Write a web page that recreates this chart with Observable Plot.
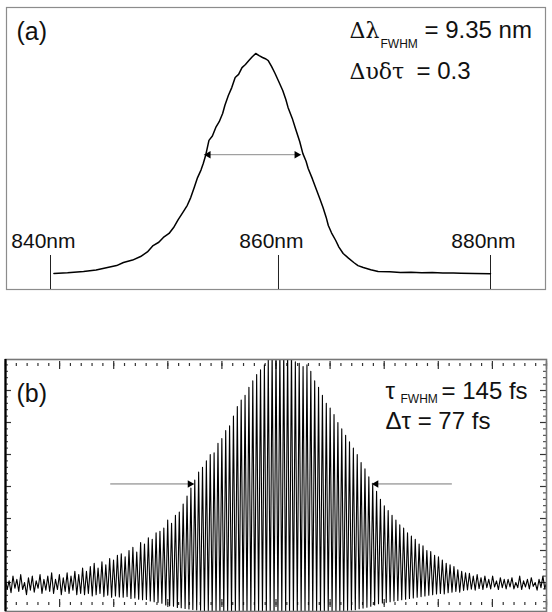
<!DOCTYPE html>
<html>
<head>
<meta charset="utf-8">
<script src="https://cdn.jsdelivr.net/npm/d3@7"></script>
<script src="https://cdn.jsdelivr.net/npm/@observablehq/plot@0.6"></script>
<style>
  html, body { margin: 0; padding: 0; background: #fff; }
  #wrap { position: relative; width: 552px; height: 612px; overflow: hidden; background: #fff; }
  #pa, #pb { position: absolute; left: 0; }
  #pa { top: 0; }
  #pb { top: 300px; }
  svg { display: block; }
</style>
</head>
<body>
<div id="wrap"><div id="pa"></div><div id="pb"></div></div>
<script>
// ---------- Panel (a): spectrum ----------
const tickNm = [840, 860, 880];
const wavelengthNm = [
  840.3, 841.5, 842.9, 844.0, 845.0, 845.8, 846.4, 847.2, 847.9, 848.5,
  849.0, 849.5, 849.9, 850.4, 850.8, 851.2, 851.6, 852.0, 852.3, 852.6,
  852.9, 853.2, 853.4, 853.6, 853.9, 854.2, 854.5, 854.8, 855.1, 855.3,
  855.6, 855.9, 856.2, 856.5, 856.8, 857.1, 857.4, 857.7, 858.0, 858.3,
  858.6, 858.9, 859.1, 859.4, 859.7, 860.0, 860.4, 860.7, 860.9, 861.3,
  861.6, 862.0, 862.3, 862.6, 862.8, 863.2, 863.5, 863.9, 864.2, 864.5,
  864.7, 865.0, 865.4, 865.7, 866.1, 866.6, 867.1, 867.5, 868.0, 868.7,
  869.4, 870.5, 871.5, 872.5, 873.5, 874.5, 875.5, 876.5, 877.2, 878.5, 880.0
];
const intensity = [
  0.0, 0.3, 0.9, 1.6, 2.7, 3.6, 5.0, 6.1, 7.7, 9.8,
  12.7, 14.2, 16.4, 18.2, 20.9, 24.5, 27.7, 31.0, 34.5, 39.0,
  43.6, 47.0, 50.0, 53.5, 60.5, 62.5, 66.4, 69.0, 72.7, 76.5,
  80.9, 84.5, 89.1, 90.5, 93.6, 95.0, 96.8, 98.5, 100, 99.0,
  98.2, 97.5, 96.8, 94.0, 90.9, 87.5, 83.2, 79.0, 75.5, 70.5,
  65.9, 60.0, 54.5, 51.0, 47.7, 43.0, 39.1, 34.0, 30.0, 25.5,
  21.8, 18.5, 15.0, 12.0, 9.1, 7.0, 5.0, 3.6, 2.7, 1.7,
  0.9, 0.8, 0.5, 0.6, 0.3, 0.5, 0.2, 0.2, 0.1, 0.0, -0.1
];
const spectrumFwhmNm = [853.5, 862.1];
const spectrumHalfLevel = 54;

// ---------- Panel (b): interferometric autocorrelation ----------
const fringePeriodFs = 2.86;
const fringeFirstOrder = -70;
const fringeUpper = [
  1.15,1.05,1.2,1.1,1.25,1.0,1.15,1.2,1.05,1.25,1.1,1.2,1.3,1.1,1.25,1.15,1.3,1.2,1.35,1.25,
  1.45,1.35,1.5,1.6,1.45,1.65,1.55,1.75,1.7,1.85,
  1.9,1.8,2.0,2.1,1.95,2.25,2.2,2.4,2.35,2.55,
  2.6,2.7,2.95,2.85,3.1,3.2,3.45,3.7,3.95,4.2,
  4.45,4.6,4.8,5.0,5.05,5.35,5.5,5.75,5.9,6.2,
  6.5,6.7,6.85,7.1,7.3,7.5,7.65,7.8,8.0,8.2,
  8.3,8.3,8.3,8.3,8.3,7.9,7.85,7.75,7.8,7.6,
  7.3,7.1,6.85,6.6,6.45,6.25,6.0,5.8,5.6,5.4,
  5.2,5.0,4.75,4.55,4.3,4.1,3.85,3.6,3.4,3.25,
  3.1,2.95,2.8,2.7,2.55,2.45,2.35,2.2,2.15,2.0,
  1.97,1.85,1.8,1.7,1.6,1.55,1.5,1.4,1.35,1.3,
  1.29,1.2,1.25,1.15,1.2,1.1,1.2,1.05,1.15,1.1,
  1.1,1.15,1.0,1.2,1.05,1.1,1.15,1.0,1.1,1.2,1.05
];
const fringeLower = [
  0.78,0.68,0.82,0.72,0.78,0.62,0.76,0.7,0.82,0.66,0.76,0.72,0.66,0.78,0.62,0.72,0.66,0.76,0.62,0.66,
  0.62,0.66,0.58,0.62,0.66,0.56,0.6,0.54,0.58,0.55,
  0.54,0.56,0.5,0.52,0.48,0.46,0.47,0.42,0.4,0.38,
  0.35,0.3,0.27,0.26,0.22,0.21,0.19,0.17,0.16,0.14,
  0.13,0.12,0.12,0.1,0.11,0.1,0.09,0.1,0.08,0.09,
  0.08,0.09,0.07,0.08,0.07,0.08,0.06,0.07,0.06,0.07,
  0.06,0.07,0.06,0.07,0.08,0.07,0.08,0.08,0.09,0.08,
  0.09,0.1,0.09,0.1,0.11,0.1,0.12,0.11,0.13,0.14,
  0.15,0.18,0.2,0.23,0.26,0.3,0.34,0.36,0.38,0.4,
  0.42,0.44,0.46,0.48,0.5,0.52,0.54,0.56,0.58,0.6,
  0.62,0.64,0.66,0.64,0.68,0.7,0.72,0.7,0.75,0.77,
  0.79,0.76,0.81,0.78,0.84,0.8,0.86,0.78,0.84,0.8,
  0.86,0.8,0.84,0.78,0.86,0.8,0.88,0.76,0.84,0.8,0.82
];
const autoFwhmTipsFs = [-60.7, 71.1];
const autoFwhmTailsFs = [-122.2, 130.4];
const autoHalfLevel = 4.08;

// graticule (oscilloscope screen) divisions
const gridMinorX = d3.range(-200, 200.01, 8);
const gridMajorX = d3.range(-200, 200.01, 40);
const gridMinorY = d3.range(0.2, 7.99, 0.2);
const gridMajorY = d3.range(1, 8, 1);

const sans = "Liberation Sans, Arial, Helvetica, sans-serif";
const serif = "DejaVu Serif, Liberation Serif, serif";

// the printed wavelength axis is slightly non-uniform (840/860/880 ticks are not equally spaced)
const nmAxis = nm => nm < 860 ? 840 + (nm - 840) * (20.727 / 20) : 860.727 + (nm - 860) * (19.273 / 20);

const spectrum = wavelengthNm.map((nm, i) => ({nm, I: intensity[i]}));
const fringes = [];
fringeUpper.forEach((u, i) => {
  const k = fringeFirstOrder + i;
  fringes.push({t: k * fringePeriodFs, v: u});
  fringes.push({t: (k + 0.5) * fringePeriodFs, v: fringeLower[i]});
});

const label = (txt, o) => Plot.text([txt], {
  text: d => d, frameAnchor: "top-left", textAnchor: "start", lineAnchor: "bottom",
  fill: "#111", fontFamily: sans, ...o
});

const pa = Plot.plot({
  width: 552, height: 300,
  marginLeft: 6, marginRight: 7, marginTop: 7, marginBottom: 11,
  x: {type: "linear", domain: [840, 880], range: [50, 490], transform: nmAxis, axis: null},
  y: {domain: [0, 100], range: [273, 53], axis: null},
  style: {background: "#fff", fontFamily: sans, overflow: "visible"},
  marks: [
    Plot.frame({stroke: "#8c8c8c", strokeWidth: 1.2}),
    Plot.ruleX(tickNm, {insetTop: 248, stroke: "#222", strokeWidth: 1}),
    Plot.text(tickNm, {x: d => d, text: d => `${d}nm`, frameAnchor: "bottom", lineAnchor: "bottom",
      textAnchor: "end", dx: 25, dy: -42, fontSize: 21, fontFamily: sans, fill: "#111"}),
    Plot.ruleY([spectrumHalfLevel], {x1: spectrumFwhmNm[0], x2: spectrumFwhmNm[1], stroke: "#8a8a8a", strokeWidth: 1}),
    Plot.dot([spectrumFwhmNm[0]], {x: d => d, y: () => spectrumHalfLevel, symbol: "triangle", r: 2.8, rotate: -90, dx: 4, fill: "#000", stroke: "none"}),
    Plot.dot([spectrumFwhmNm[1]], {x: d => d, y: () => spectrumHalfLevel, symbol: "triangle", r: 2.8, rotate: 90, dx: -4, fill: "#000", stroke: "none"}),
    Plot.line(spectrum, {x: "nm", y: "I", stroke: "#000", strokeWidth: 1.5}),
    label("(a)", {dx: 10, dy: 32, fontSize: 25}),
    label("Δλ", {dx: 343, dy: 30, fontSize: 22, fontFamily: serif}),
    label("FWHM", {dx: 374, dy: 40, fontSize: 12}),
    label("= 9.35 nm", {dx: 418, dy: 30, fontSize: 24}),
    label("Δυδτ", {dx: 343, dy: 71, fontSize: 22, fontFamily: serif}),
    label("= 0.3", {dx: 410, dy: 71, fontSize: 24})
  ]
});
document.getElementById("pa").appendChild(pa);

const pb = Plot.plot({
  width: 552, height: 312,
  marginLeft: 5, marginRight: 6, marginTop: 59, marginBottom: 1,
  x: {domain: [-200, 200], axis: null},
  y: {domain: [0, 8], range: [314, 58], axis: null},
  style: {background: "#fff", fontFamily: sans, overflow: "visible"},
  marks: [
    Plot.ruleX(gridMinorX, {insetTop: 4, insetBottom: 245, stroke: "#333", strokeWidth: 1.2}),
    Plot.ruleX(gridMajorX, {insetTop: 2, insetBottom: 242, stroke: "#333", strokeWidth: 1.2}),
    Plot.ruleX(gridMinorX, {insetTop: 243, insetBottom: 6, stroke: "#333", strokeWidth: 1.2}),
    Plot.ruleX(gridMajorX, {insetTop: 240, insetBottom: 4, stroke: "#333", strokeWidth: 1.2}),
    Plot.ruleY(gridMinorY, {insetRight: 538, stroke: "#333", strokeWidth: 1}),
    Plot.ruleY(gridMajorY, {insetRight: 535, stroke: "#333", strokeWidth: 1.2}),
    Plot.ruleY(gridMinorY, {insetLeft: 538, stroke: "#333", strokeWidth: 1}),
    Plot.ruleY(gridMajorY, {insetLeft: 535, stroke: "#333", strokeWidth: 1.2}),
    Plot.line(fringes, {x: "t", y: "v", stroke: "#000", strokeWidth: 1.1, clip: true}),
    Plot.frame({stroke: "#777", strokeWidth: 1.6}),
    Plot.ruleX([-200], {stroke: "#000", strokeWidth: 2.2}),
    Plot.ruleY([autoHalfLevel], {x1: autoFwhmTailsFs[0], x2: autoFwhmTipsFs[0], stroke: "#777", strokeWidth: 1}),
    Plot.ruleY([autoHalfLevel], {x1: autoFwhmTipsFs[1], x2: autoFwhmTailsFs[1], stroke: "#777", strokeWidth: 1}),
    Plot.dot([autoFwhmTipsFs[0]], {x: d => d, y: () => autoHalfLevel, symbol: "triangle", r: 2.8, rotate: 90, dx: -4, fill: "#000", stroke: "none"}),
    Plot.dot([autoFwhmTipsFs[1]], {x: d => d, y: () => autoHalfLevel, symbol: "triangle", r: 2.8, rotate: -90, dx: 4, fill: "#000", stroke: "none"}),
    label("(b)", {dx: 11, dy: 42, fontSize: 25}),
    label("τ", {dx: 380, dy: 39, fontSize: 24}),
    label("FWHM", {dx: 395, dy: 43, fontSize: 12}),
    label("= 145 fs", {dx: 436, dy: 39, fontSize: 24}),
    label("Δτ = 77 fs", {dx: 380, dy: 69, fontSize: 24})
  ]
});
document.getElementById("pb").appendChild(pb);
</script>
</body>
</html>
